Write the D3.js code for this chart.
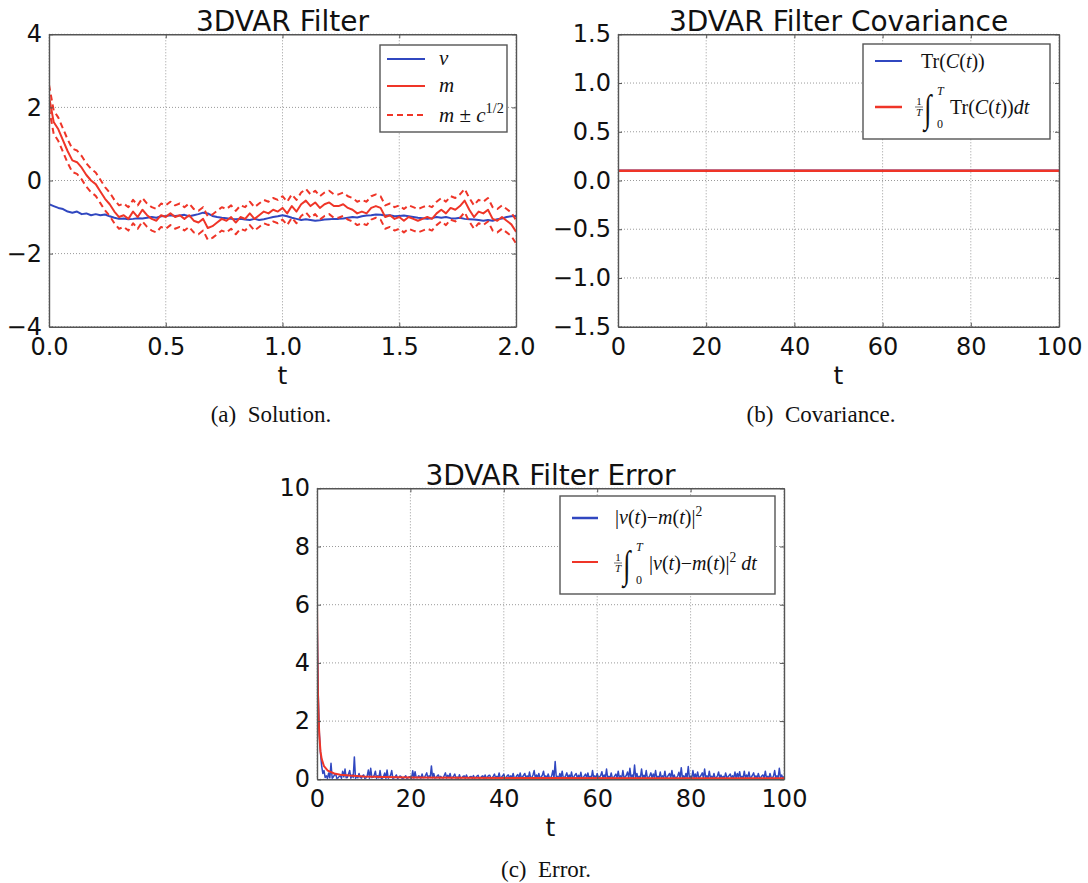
<!DOCTYPE html>
<html>
<head>
<meta charset="utf-8">
<script src="https://cdn.jsdelivr.net/npm/d3@7"></script>
<style>
  body { margin: 0; background: #fff; }
  .grid { stroke: #9a9a9a; stroke-width: 1; stroke-dasharray: 1,2; }
  .math { font-family: "Liberation Serif", "Times New Roman", serif; fill: #111; }
  .caption { font-family: "Liberation Serif", serif; fill: #111; }
</style>
</head>
<body>
<svg id="fig" width="1088" height="883"></svg>
<script>
// ---- (a) solution: t = 0..2, step 0.02 ----
const solDt = 0.02;
const vTruth = [
  -0.65,-0.70,-0.75,-0.78,-0.85,-0.88,-0.85,-0.92,-0.90,-0.95,
  -0.92,-0.95,-0.93,-0.98,-1.02,-1.05,-1.04,-1.06,-1.05,-1.03,
  -1.04,-1.02,-1.00,-1.02,-0.98,-0.97,-0.95,-0.97,-0.96,-0.94,
  -0.98,-0.95,-0.92,-0.88,-0.90,-0.97,-1.00,-1.02,-1.03,-1.05,
  -1.06,-1.05,-1.07,-1.08,-1.05,-1.08,-1.06,-1.03,-1.00,-0.98,
  -0.95,-0.98,-1.02,-1.05,-1.08,-1.06,-1.08,-1.10,-1.09,-1.07,
  -1.06,-1.05,-1.05,-1.04,-1.02,-1.00,-1.01,-0.98,-0.96,-0.95,
  -0.93,-0.94,-0.96,-0.95,-0.98,-0.97,-0.96,-0.98,-1.00,-1.02,
  -1.03,-1.05,-1.03,-1.00,-1.02,-1.00,-1.03,-1.04,-1.02,-1.05,
  -1.06,-1.07,-1.08,-1.10,-1.08,-1.10,-1.06,-1.04,-1.00,-0.98,
  -0.97
];
const mMean = [
  2.30,1.60,1.40,1.10,0.80,0.55,0.50,0.35,0.15,0.00,
  -0.10,-0.30,-0.50,-0.65,-0.85,-1.00,-0.95,-1.05,-0.85,-1.00,
  -0.80,-0.95,-1.05,-1.10,-0.95,-1.00,-0.90,-1.00,-0.95,-1.05,
  -0.95,-1.10,-1.15,-1.05,-1.30,-1.25,-1.15,-1.05,-1.10,-1.00,
  -1.15,-1.00,-1.05,-0.90,-1.05,-0.95,-0.85,-0.90,-0.80,-0.85,
  -0.75,-0.90,-0.70,-0.85,-0.65,-0.55,-0.70,-0.60,-0.75,-0.65,
  -0.60,-0.70,-0.70,-0.65,-0.75,-0.80,-0.90,-0.85,-0.90,-0.75,
  -0.70,-0.75,-1.00,-0.95,-1.05,-1.00,-1.10,-1.00,-1.05,-1.10,
  -1.05,-1.00,-1.05,-0.90,-0.80,-0.90,-0.75,-0.80,-0.70,-0.55,
  -0.80,-1.00,-0.85,-0.90,-0.80,-1.05,-1.10,-1.00,-1.10,-1.20,
  -1.40
];
const mUpper = [
  2.62,1.92,1.72,1.42,1.12,0.87,0.82,0.67,0.47,0.32,
  0.22,0.02,-0.18,-0.33,-0.53,-0.68,-0.63,-0.73,-0.53,-0.68,
  -0.48,-0.63,-0.73,-0.78,-0.63,-0.68,-0.58,-0.68,-0.63,-0.73,
  -0.63,-0.78,-0.83,-0.73,-0.98,-0.93,-0.83,-0.73,-0.78,-0.68,
  -0.83,-0.68,-0.73,-0.58,-0.73,-0.63,-0.53,-0.58,-0.48,-0.53,
  -0.43,-0.58,-0.38,-0.53,-0.33,-0.23,-0.38,-0.28,-0.43,-0.33,
  -0.28,-0.38,-0.38,-0.33,-0.43,-0.48,-0.58,-0.53,-0.58,-0.43,
  -0.38,-0.43,-0.68,-0.63,-0.73,-0.68,-0.78,-0.68,-0.73,-0.78,
  -0.73,-0.68,-0.73,-0.58,-0.48,-0.58,-0.43,-0.48,-0.38,-0.23,
  -0.48,-0.68,-0.53,-0.58,-0.48,-0.73,-0.78,-0.68,-0.78,-0.88,
  -1.08
];
const mLower = [
  1.98,1.28,1.08,0.78,0.48,0.23,0.18,0.03,-0.17,-0.32,
  -0.42,-0.62,-0.82,-0.97,-1.17,-1.32,-1.27,-1.37,-1.17,-1.32,
  -1.12,-1.27,-1.37,-1.42,-1.27,-1.32,-1.22,-1.32,-1.27,-1.37,
  -1.27,-1.42,-1.47,-1.37,-1.62,-1.57,-1.47,-1.37,-1.42,-1.32,
  -1.47,-1.32,-1.37,-1.22,-1.37,-1.27,-1.17,-1.22,-1.12,-1.17,
  -1.07,-1.22,-1.02,-1.17,-0.97,-0.87,-1.02,-0.92,-1.07,-0.97,
  -0.92,-1.02,-1.02,-0.97,-1.07,-1.12,-1.22,-1.17,-1.22,-1.07,
  -1.02,-1.07,-1.32,-1.27,-1.37,-1.32,-1.42,-1.32,-1.37,-1.42,
  -1.37,-1.32,-1.37,-1.22,-1.12,-1.22,-1.07,-1.12,-1.02,-0.87,
  -1.12,-1.32,-1.17,-1.22,-1.12,-1.37,-1.42,-1.32,-1.42,-1.52,
  -1.72
];

// ---- (b) covariance ----
const covT = [0, 100];
const covTrace = [0.1, 0.1];
const covTraceAvg = [0.1, 0.1];

// ---- (c) error: t = 0..100, step 0.25 ----
const errDt = 0.25;
const errSq = [
  5.8,3.0,1.6,0.9,0.45,0.2,0.30,0.06,0.12,0.03,0.22,0.05,0.55,0.04,0.08,0.15,0.18,0.03,0.05,0.10,
  0.12,0.03,0.28,0.08,0.35,0.05,0.06,0.18,0.30,0.04,0.15,0.06,0.77,0.03,0.10,0.05,0.20,0.07,0.04,0.12,
  0.15,0.03,0.05,0.12,0.32,0.04,0.38,0.06,0.07,0.14,0.28,0.03,0.12,0.05,0.30,0.04,0.04,0.10,0.22,0.03,
  0.32,0.04,0.08,0.14,0.30,0.03,0.05,0.09,0.15,0.03,0.06,0.11,0.10,0.02,0.04,0.08,0.12,0.03,0.05,0.09,
  0.08,0.03,0.29,0.04,0.26,0.06,0.05,0.12,0.10,0.03,0.18,0.05,0.06,0.14,0.22,0.04,0.12,0.06,0.46,0.05,
  0.20,0.04,0.05,0.12,0.15,0.03,0.10,0.05,0.04,0.13,0.22,0.04,0.14,0.06,0.20,0.03,0.06,0.11,0.18,0.04,
  0.08,0.02,0.16,0.04,0.05,0.10,0.12,0.03,0.15,0.05,0.04,0.09,0.10,0.03,0.13,0.04,0.06,0.11,0.14,0.03,
  0.05,0.10,0.12,0.03,0.15,0.04,0.08,0.13,0.14,0.03,0.05,0.11,0.18,0.04,0.10,0.05,0.22,0.03,0.07,0.12,
  0.18,0.04,0.06,0.13,0.15,0.03,0.12,0.05,0.20,0.04,0.05,0.12,0.16,0.03,0.22,0.05,0.08,0.14,0.20,0.04,
  0.12,0.03,0.25,0.05,0.06,0.15,0.30,0.04,0.15,0.06,0.20,0.03,0.08,0.14,0.28,0.05,0.12,0.04,0.18,0.06,
  0.05,0.12,0.30,0.04,0.61,0.05,0.10,0.03,0.20,0.06,0.28,0.04,0.06,0.13,0.22,0.03,0.15,0.05,0.25,0.04,
  0.08,0.15,0.20,0.03,0.14,0.05,0.24,0.04,0.06,0.12,0.18,0.03,0.22,0.05,0.10,0.04,0.30,0.06,0.12,0.03,
  0.20,0.05,0.08,0.13,0.26,0.04,0.15,0.06,0.35,0.03,0.10,0.05,0.22,0.04,0.06,0.12,0.18,0.03,0.28,0.05,
  0.12,0.04,0.30,0.05,0.08,0.14,0.25,0.03,0.38,0.06,0.15,0.04,0.49,0.05,0.20,0.03,0.10,0.06,0.35,0.04,
  0.14,0.05,0.30,0.03,0.06,0.12,0.22,0.04,0.18,0.06,0.30,0.03,0.10,0.05,0.25,0.04,0.12,0.06,0.28,0.03,
  0.08,0.14,0.20,0.04,0.30,0.05,0.15,0.03,0.06,0.12,0.24,0.04,0.40,0.05,0.12,0.03,0.20,0.06,0.44,0.04,
  0.10,0.04,0.30,0.05,0.18,0.03,0.25,0.06,0.08,0.14,0.22,0.04,0.35,0.05,0.12,0.03,0.28,0.06,0.10,0.04,
  0.20,0.05,0.06,0.12,0.25,0.03,0.15,0.05,0.10,0.04,0.22,0.06,0.08,0.13,0.18,0.03,0.12,0.05,0.25,0.04,
  0.20,0.06,0.26,0.04,0.10,0.05,0.28,0.03,0.15,0.06,0.25,0.04,0.08,0.14,0.22,0.05,0.12,0.03,0.20,0.06,
  0.06,0.12,0.15,0.04,0.28,0.05,0.10,0.03,0.20,0.06,0.05,0.11,0.30,0.04,0.12,0.05,0.38,0.06,0.15,0.04,
  0.10
];
const errAvgT = [0, 0.1, 0.2, 0.35, 0.5, 0.75, 1.0, 1.5, 2.3, 3.7, 5, 7, 10, 14.5, 20, 30, 50, 75, 100];
const errAvg  = [6.0, 4.2, 3.0, 2.1, 1.5, 0.95, 0.70, 0.45, 0.30, 0.20, 0.16, 0.13, 0.10, 0.08, 0.06, 0.05, 0.045, 0.04, 0.04];

const blue = "#3047c0";
const red = "#ef3528";

const svg = d3.select("#fig");
svg.append("rect").attr("width", 1088).attr("height", 883).attr("fill", "#fff");

function makePanel(id, box, xDomain, yDomain, xTicks, yTicks, xFmt, yFmt, title) {
  const x = d3.scaleLinear().domain(xDomain).range([box.left, box.right]);
  const y = d3.scaleLinear().domain(yDomain).range([box.bottom, box.top]);
  const g = svg.append("g");

  g.append("clipPath").attr("id", "clip-" + id)
    .append("rect")
    .attr("x", box.left).attr("y", box.top)
    .attr("width", box.right - box.left).attr("height", box.bottom - box.top);

  // grid
  g.selectAll(".gx").data(xTicks).enter().append("line")
    .attr("class", "grid")
    .attr("x1", d => x(d)).attr("x2", d => x(d))
    .attr("y1", box.top).attr("y2", box.bottom);
  g.selectAll(".gy").data(yTicks).enter().append("line")
    .attr("class", "grid")
    .attr("x1", box.left).attr("x2", box.right)
    .attr("y1", d => y(d)).attr("y2", d => y(d));

  // title
  g.append("text")
    .attr("x", (box.left + box.right) / 2)
    .attr("y", box.top - 3)
    .attr("text-anchor", "middle")
    .attr("font-family", "DejaVu Sans")
    .attr("font-size", 28)
    .attr("fill", "#111")
    .text(title);

  // x label
  g.append("text")
    .attr("x", (box.left + box.right) / 2)
    .attr("y", box.bottom + 57)
    .attr("text-anchor", "middle")
    .attr("font-family", "DejaVu Sans")
    .attr("font-size", 25)
    .attr("fill", "#111")
    .text("t");

  const plot = g.append("g").attr("clip-path", "url(#clip-" + id + ")");
  const axes = g.append("g");

  // frame + inward ticks, drawn after the data
  function frame() {
    const style = sel => {
      sel.attr("color", "#555").attr("font-family", "DejaVu Sans").attr("font-size", 24);
      sel.select(".domain").attr("stroke-width", 1.4);
      sel.selectAll(".tick line").attr("stroke-width", 1);
      sel.selectAll("text").attr("fill", "#111");
    };
    axes.append("g").attr("transform", `translate(0,${box.bottom})`)
      .call(d3.axisBottom(x).tickValues(xTicks).tickFormat(xFmt).tickSizeInner(-4).tickSizeOuter(0).tickPadding(11))
      .call(style);
    axes.append("g").attr("transform", `translate(0,${box.top})`)
      .call(d3.axisTop(x).tickValues(xTicks).tickFormat("").tickSizeInner(-4).tickSizeOuter(0))
      .call(style);
    axes.append("g").attr("transform", `translate(${box.left},0)`)
      .call(d3.axisLeft(y).tickValues(yTicks).tickFormat(yFmt).tickSizeInner(-4).tickSizeOuter(0).tickPadding(7))
      .call(style);
    axes.append("g").attr("transform", `translate(${box.right},0)`)
      .call(d3.axisRight(y).tickValues(yTicks).tickFormat("").tickSizeInner(-4).tickSizeOuter(0))
      .call(style);
  }
  return { x, y, g, plot, frame };
}

function drawLine(p, xs, ys, color, width, dash) {
  const pts = xs.map((t, i) => [t, ys[i]]);
  p.plot.append("path")
    .datum(pts)
    .attr("fill", "none")
    .attr("stroke", color)
    .attr("stroke-width", width)
    .attr("stroke-dasharray", dash || null)
    .attr("stroke-linejoin", "round")
    .attr("d", d3.line().x(d => p.x(d[0])).y(d => p.y(d[1])));
}

// rich math text: parts = [[text, kind]], kind: r roman, i italic, sup superscript
function mathText(g, x, y, parts, size) {
  const t = g.append("text").attr("class", "math").attr("x", x).attr("y", y).attr("font-size", size);
  let raised = false;
  parts.forEach(([s, k]) => {
    const ts = t.append("tspan").text(s);
    if (k === "i") ts.attr("font-style", "italic");
    if (k === "sup") {
      ts.attr("font-size", size * 0.68);
      if (!raised) { ts.attr("dy", -size * 0.42); raised = true; }
    } else if (raised) {
      ts.attr("dy", size * 0.42); raised = false;
    }
  });
  return t;
}

function integral(g, x, y, parts, size) {
  g.append("text").attr("class", "math").attr("x", x + 4).attr("y", y - 9)
    .attr("font-size", 11).attr("text-anchor", "middle").text("1");
  g.append("line").attr("x1", x).attr("x2", x + 8).attr("y1", y - 7).attr("y2", y - 7)
    .attr("stroke", "#111").attr("stroke-width", 0.6);
  g.append("text").attr("class", "math").attr("x", x + 4).attr("y", y + 2)
    .attr("font-size", 11).attr("font-style", "italic").attr("text-anchor", "middle").text("T");
  // tall integral sign (stretched vertically like the TeX display form)
  g.append("text").attr("class", "math")
    .attr("transform", `translate(${x + 9},${y + 8}) scale(1,1.45)`)
    .attr("font-family", "DejaVu Serif").attr("font-size", 27).text("∫");
  g.append("text").attr("class", "math").attr("x", x + 22).attr("y", y - 19)
    .attr("font-size", 12).attr("font-style", "italic").text("T");
  g.append("text").attr("class", "math").attr("x", x + 22).attr("y", y + 14)
    .attr("font-size", 12).text("0");
  mathText(g, x + 35, y, parts, size);
}

function legendBox(g, b) {
  g.append("rect").attr("x", b.x0).attr("y", b.y0)
    .attr("width", b.x1 - b.x0).attr("height", b.y1 - b.y0)
    .attr("fill", "#fff").attr("stroke", "#555").attr("stroke-width", 1.4);
}
function legendLine(g, x0, x1, y, color, width, dash) {
  g.append("line").attr("x1", x0).attr("x2", x1).attr("y1", y).attr("y2", y)
    .attr("stroke", color).attr("stroke-width", width).attr("stroke-dasharray", dash || null);
}

// ---------------- panel (a) ----------------
const pa = makePanel("a", { left: 49, right: 516, top: 34.3, bottom: 326.7 },
  [0, 2], [-4, 4], [0, 0.5, 1, 1.5, 2], [-4, -2, 0, 2, 4],
  d3.format(".1f"), d3.format("d"), "3DVAR Filter");
const solT = vTruth.map((_, i) => i * solDt);
drawLine(pa, solT, vTruth, blue, 2);
drawLine(pa, solT, mMean, red, 2);
drawLine(pa, solT, mUpper, red, 2, "6,4");
drawLine(pa, solT, mLower, red, 2, "6,4");
pa.frame();
{
  const lg = pa.g.append("g");
  legendBox(lg, { x0: 380, x1: 507, y0: 45, y1: 132 });
  legendLine(lg, 387, 425, 59, blue, 2);
  legendLine(lg, 387, 425, 86, red, 2);
  legendLine(lg, 387, 425, 115, red, 2, "6,4");
  mathText(lg, 439, 65, [["v", "i"]], 21);
  mathText(lg, 439, 92, [["m", "i"]], 21);
  mathText(lg, 439, 122, [["m", "i"], [" ± ", "r"], ["c", "i"], ["1/2", "sup"]], 21);
}

// ---------------- panel (b) ----------------
const pb = makePanel("b", { left: 618, right: 1059, top: 34.3, bottom: 326.7 },
  [0, 100], [-1.5, 1.5], [0, 20, 40, 60, 80, 100], [-1.5, -1, -0.5, 0, 0.5, 1, 1.5],
  d3.format("d"), d3.format(".1f"), "3DVAR Filter Covariance");
drawLine(pb, covT, covTrace, blue, 2.5);
drawLine(pb, covT, covTraceAvg, red, 2.5);
pb.frame();
{
  const lg = pb.g.append("g");
  legendBox(lg, { x0: 863, x1: 1050, y0: 44, y1: 139 });
  legendLine(lg, 875, 902, 61, blue, 2);
  legendLine(lg, 875, 902, 107, red, 2.5);
  mathText(lg, 921, 68, [["Tr", "r"], ["(", "r"], ["C", "i"], ["(", "r"], ["t", "i"], ["))", "r"]], 20);
  integral(lg, 915, 114, [["Tr", "r"], ["(", "r"], ["C", "i"], ["(", "r"], ["t", "i"], ["))", "r"], ["dt", "i"]], 20);
}

// ---------------- panel (c) ----------------
const pc = makePanel("c", { left: 317, right: 784, top: 488.3, bottom: 779.3 },
  [0, 100], [0, 10], [0, 20, 40, 60, 80, 100], [0, 2, 4, 6, 8, 10],
  d3.format("d"), d3.format("d"), "3DVAR Filter Error");
const errT = errSq.map((_, i) => i * errDt);
drawLine(pc, errT, errSq, blue, 1.5);
drawLine(pc, errAvgT, errAvg, red, 2);
pc.frame();
{
  const lg = pc.g.append("g");
  legendBox(lg, { x0: 560, x1: 775, y0: 496, y1: 594 });
  legendLine(lg, 572, 598, 518, blue, 2.5);
  legendLine(lg, 572, 598, 562, red, 2);
  const absParts = [["|", "r"], ["v", "i"], ["(", "r"], ["t", "i"], [")", "r"], ["−", "r"],
                    ["m", "i"], ["(", "r"], ["t", "i"], [")", "r"], ["|", "r"], ["2", "sup"]];
  mathText(lg, 615, 524, absParts, 20);
  integral(lg, 614, 570, absParts.concat([[" dt", "i"]]), 20);
}

// ---------------- captions ----------------
const captions = [
  { text: "(a)  Solution.", x: 271, y: 422 },
  { text: "(b)  Covariance.", x: 821, y: 422 },
  { text: "(c)  Error.", x: 546, y: 877 }
];
svg.selectAll(".caption").data(captions).enter().append("text")
  .attr("class", "caption")
  .attr("x", d => d.x).attr("y", d => d.y)
  .attr("text-anchor", "middle")
  .attr("font-size", 23)
  .style("white-space", "pre")
  .text(d => d.text);
</script>
</body>
</html>
